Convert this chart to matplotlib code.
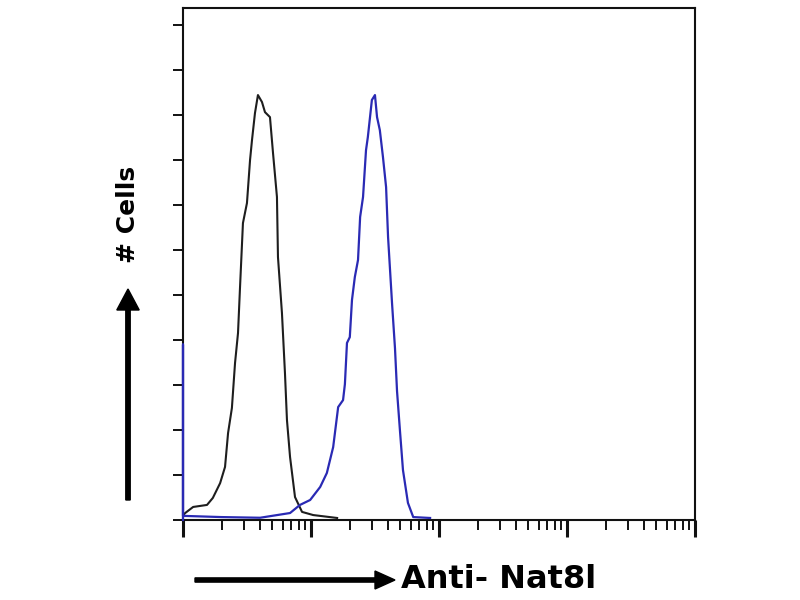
import matplotlib
matplotlib.use("Agg")
import matplotlib.pyplot as plt
from matplotlib.ticker import LogLocator, NullFormatter, FixedLocator

# Intensidad de fluorescencia (escala log) y número de células
control_x = [1.0, 1.04, 1.2, 1.54, 1.71, 1.95, 2.13, 2.25, 2.41, 2.55, 2.69, 2.79,
             2.94, 3.16, 3.34, 3.46, 3.65, 3.85, 4.14, 4.37, 4.78, 5.05, 5.42,
             5.52, 5.93, 6.26, 6.49, 6.86, 7.50, 8.51, 10.4, 16.0]
control_y = [2.0, 3.1, 5.8, 6.7, 9.8, 16.4, 23.6, 38.7, 49.8, 69.8, 83.1, 103.6,
             132.0, 140.9, 160.0, 168.9, 180.9, 188.9, 185.8, 181.3, 179.1, 163.1,
             143.6, 116.9, 92.0, 65.3, 44.4, 28.0, 10.2, 3.6, 2.2, 0.9]

nat8l_x = [1.0, 1.0, 1.0, 1.05, 2.0, 4.0, 6.86, 8.2, 9.85, 11.8, 13.3, 14.9, 16.3,
           17.8, 18.4, 19.1, 20.1, 20.9, 22.0, 23.3, 24.2, 25.5, 26.9, 27.8,
           29.9, 31.6, 32.8, 34.5, 36.5, 38.6, 40.0, 43.0, 45.3, 47.0, 49.5,
           52.3, 57.2, 62.9, 85.2]
nat8l_y = [0.0, 78.0, 1.8, 1.8, 1.3, 1.0, 3.1, 6.7, 8.9, 14.7, 20.9, 32.4, 50.2,
           53.3, 60.4, 78.7, 81.3, 97.8, 108.0, 115.6, 134.7, 143.6, 164.4, 170.2,
           186.7, 188.9, 179.1, 173.3, 161.3, 148.0, 125.8, 96.0, 76.4, 57.3, 40.0,
           22.2, 7.6, 1.3, 0.9]

y_ticks = list(range(0, 221, 20))

fig = plt.figure(figsize=(8, 6), dpi=100)
ax = fig.add_axes([0.22875, 0.13333, 0.64, 0.85333])

ax.plot(control_x, control_y, color="#1e1e1e", lw=1.5)
ax.plot(nat8l_x, nat8l_y, color="#2a2ab4", lw=1.6, clip_on=False, zorder=3)

ax.set_xscale("log")
ax.set_xlim(1, 1e4)
ax.set_ylim(0, 227.6)

ax.xaxis.set_major_locator(LogLocator(base=10, numticks=10))
ax.xaxis.set_minor_locator(LogLocator(base=10, subs=range(2, 10), numticks=100))
ax.xaxis.set_major_formatter(NullFormatter())
ax.xaxis.set_minor_formatter(NullFormatter())
ax.yaxis.set_major_locator(FixedLocator(y_ticks))
ax.set_yticklabels([])

ax.tick_params(axis="x", which="major", direction="out", length=12, width=2.2,
               color="#111111")
ax.tick_params(axis="x", which="minor", direction="out", length=7, width=1.4,
               color="#111111")
ax.tick_params(axis="y", direction="out", length=7, width=1.4, color="#111111")
for s in ax.spines.values():
    s.set_linewidth(1.5)
    s.set_color("#111111")

# Flechas y títulos de ejes
fig.patches.append(matplotlib.patches.FancyArrow(
    195 / 800, 1 - 580 / 600, 180 / 800, 0, width=0.007, head_width=0.03,
    head_length=0.025, length_includes_head=False, color="black",
    transform=fig.transFigure))
fig.text(401 / 800, 1 - 580 / 600, "Anti- Nat8l", fontsize=23, fontweight="bold",
         ha="left", va="center")

fig.patches.append(matplotlib.patches.FancyArrow(
    128 / 800, 1 - 500 / 600, 0, 190 / 600, width=0.0055, head_width=0.028,
    head_length=0.035, length_includes_head=False, color="black",
    transform=fig.transFigure))
fig.text(128 / 800, 1 - 214 / 600, "# Cells", fontsize=18, fontweight="bold",
         rotation=90, ha="center", va="center")

fig.savefig("out.png", dpi=100)
